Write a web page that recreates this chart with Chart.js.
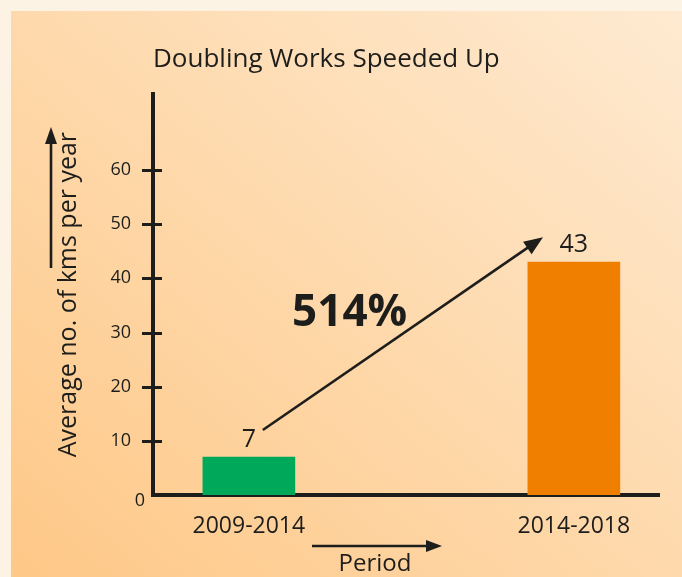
<!DOCTYPE html>
<html><head><meta charset="utf-8">
<script src="https://cdn.jsdelivr.net/npm/chart.js@4.4.0/dist/chart.umd.min.js"></script>
<style>
html,body{margin:0;padding:0;width:682px;height:577px;overflow:hidden;background:#fdf3e5;}
#panel{position:absolute;left:11px;top:11px;width:671px;height:566px;background:linear-gradient(to top right,#fec887,#feead1);}
#wrap{position:absolute;left:0;top:0;width:682px;height:577px;}
</style></head><body>
<div id="panel"></div>
<div id="wrap"><canvas id="c" width="682" height="577"></canvas></div>
<script>
// ---- data ----
const categories = ['2009-2014', '2014-2018'];
const values = [7, 43];
const yTickValues = [0, 10, 20, 30, 40, 50, 60];
const barColors = ['#00a859', '#f07f00'];
const chartTitle = 'Doubling Works Speeded Up';
const yTitle = 'Average no. of kms per year';
const xTitle = 'Period';
const growthLabel = '514%';

const INK = '#1d1d1b';
const FONT = "'Open Sans', sans-serif";
Chart.defaults.font.family = FONT;
Chart.defaults.color = INK;

function arrow(ctx, x1, y1, x2, y2, lw, headLen, headW) {
  const a = Math.atan2(y2 - y1, x2 - x1);
  const c = Math.cos(a), s = Math.sin(a);
  const bx = x2 - headLen * c, by = y2 - headLen * s;
  ctx.save();
  ctx.strokeStyle = INK; ctx.fillStyle = INK; ctx.lineWidth = lw; ctx.lineCap = 'butt';
  ctx.beginPath(); ctx.moveTo(x1, y1); ctx.lineTo(bx + c, by + s); ctx.stroke();
  ctx.beginPath();
  ctx.moveTo(x2, y2);
  ctx.lineTo(bx - s * headW / 2, by + c * headW / 2);
  ctx.lineTo(bx + s * headW / 2, by - c * headW / 2);
  ctx.closePath(); ctx.fill();
  ctx.restore();
}

const crossTicks = {
  id: 'crossTicks',
  afterDraw(chart) {
    const {ctx} = chart;
    const y = chart.scales.y;
    const ax = chart.chartArea.left;
    ctx.save();
    ctx.strokeStyle = INK; ctx.lineWidth = 3;
    ctx.fillStyle = INK;
    y.ticks.forEach(t => {
      const py = Math.round(y.getPixelForValue(t.value)) + 0.5;
      if (t.value === 0) {
        // origin label sits below-left of the axis corner
        ctx.font = "18px " + FONT;
        ctx.textAlign = 'center'; ctx.textBaseline = 'middle';
        ctx.fillText(String(t.value), ax - 13, py + 5);
        return;
      }
      ctx.beginPath(); ctx.moveTo(ax - 11, py); ctx.lineTo(ax + 9, py); ctx.stroke();
    });
    ctx.restore();
  }
};

const annotations = {
  id: 'annotations',
  afterDatasetsDraw(chart) {
    const {ctx, chartArea} = chart;
    const xs = chart.scales.x, ys = chart.scales.y;
    ctx.save();
    ctx.fillStyle = INK;
    ctx.textAlign = 'center'; ctx.textBaseline = 'middle';
    // value labels above bars
    ctx.font = "25px " + FONT;
    chart.getDatasetMeta(0).data.forEach((bar, i) => {
      ctx.fillText(String(values[i]), bar.x, bar.y - 17);
    });
    // growth arrow between bars
    arrow(ctx, xs.getPixelForValue(0.043), ys.getPixelForValue(12.0),
               xs.getPixelForValue(0.905), ys.getPixelForValue(47.6), 2.6, 19, 15);
    ctx.font = "bold 44px " + FONT;
    ctx.fillText(growthLabel, xs.getPixelForValue(0.31), ys.getPixelForValue(33.5));
    // y axis direction arrow
    arrow(ctx, 51, 268, 51, 127, 2.6, 17, 12);
    // x axis title with arrow
    ctx.font = "24px " + FONT;
    ctx.fillText(xTitle, 375, chartArea.bottom + 69);
    arrow(ctx, 312, chartArea.bottom + 51, 442, chartArea.bottom + 51, 2.6, 16, 12);
    ctx.restore();
  }
};

new Chart(document.getElementById('c'), {
  type: 'bar',
  data: {
    datasets: [{
      data: values.map((v, i) => ({x: i, y: v})),
      backgroundColor: barColors,
      borderWidth: 0,
      barThickness: 92
    }]
  },
  options: {
    responsive: false,
    animation: false,
    devicePixelRatio: 1,
    layout: {padding: {top: 27, right: 23, bottom: 0, left: 0}},
    plugins: {
      legend: {display: false},
      tooltip: {enabled: false},
      title: {
        display: true, text: chartTitle, align: 'start', fullSize: false,
        color: INK, font: {size: 26, weight: 'normal'},
        padding: {top: 17, bottom: 19}
      }
    },
    scales: {
      x: {
        type: 'linear', min: -0.295, max: 1.262, offset: false, bounds: 'data',
        afterBuildTicks: s => { s.ticks = categories.map((c, i) => ({value: i})); },
        afterFit: s => { s.height = 82; },
        grid: {display: false, drawTicks: false, offset: false},
        border: {display: true, color: INK, width: 4},
        ticks: {padding: 18, font: {size: 23}, color: INK, maxRotation: 0, autoSkip: false,
                callback: v => categories[v]}
      },
      y: {
        min: 0, max: 74,
        afterBuildTicks: s => { s.ticks = yTickValues.map(v => ({value: v})); },
        afterFit: s => { s.width = 153; },
        grid: {display: false, drawTicks: false},
        border: {display: true, color: INK, width: 4},
        ticks: {padding: 22, font: {size: 18}, color: INK,
                callback: v => (v === 0 ? '' : String(v))},
        title: {display: true, text: yTitle, color: INK, font: {size: 25},
                padding: {top: 54, bottom: 0}}
      }
    }
  },
  plugins: [crossTicks, annotations]
});
</script>
</body></html>
